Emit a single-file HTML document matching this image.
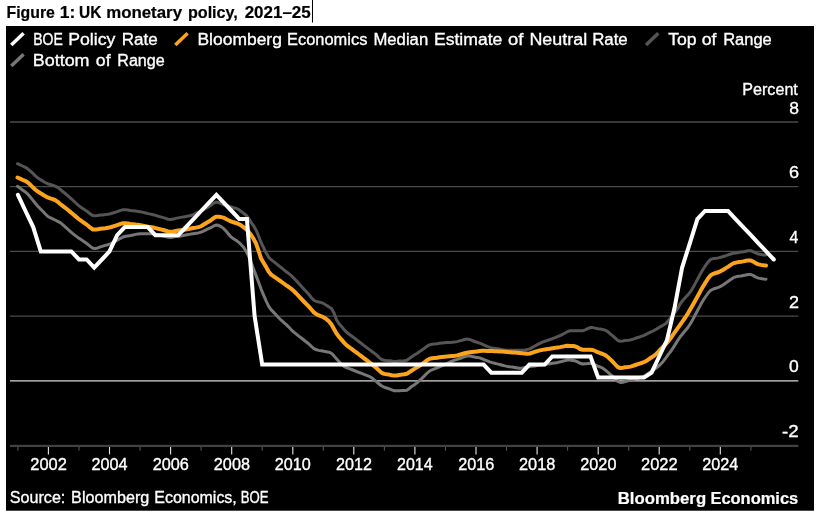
<!DOCTYPE html>
<html><head><meta charset="utf-8"><title>Figure 1: UK monetary policy</title>
<style>
html,body{margin:0;padding:0;background:#fff;}
body{width:820px;height:516px;overflow:hidden;position:relative;font-family:"Liberation Sans",sans-serif;}
svg{position:absolute;left:0;top:0;display:block}
svg text{font-family:"Liberation Sans",sans-serif;}
</style></head><body>
<svg width="820" height="516" viewBox="0 0 820 516">
<rect x="0" y="0" width="820" height="516" fill="#fff"/>
<rect x="312" y="0" width="1" height="22.5" fill="#000"/>
<rect x="6" y="26" width="808" height="484.7" fill="#000"/>
<g stroke="#4a4a4a" stroke-width="1.3" fill="none"><line x1="10" y1="122.0" x2="798.3" y2="122.0"/><line x1="10" y1="186.7" x2="798.3" y2="186.7"/><line x1="10" y1="251.4" x2="798.3" y2="251.4"/><line x1="10" y1="316.1" x2="798.3" y2="316.1"/></g>
<rect x="10" y="380.0" width="788.3" height="1.7" fill="#a0a0a0"/>
<rect x="10" y="444.8" width="788.3" height="2.2" fill="#424242"/>
<g stroke-width="1.1"><line x1="17.9" y1="447" x2="17.9" y2="450.7" stroke="#555"/><line x1="48.4" y1="447" x2="48.4" y2="454.4" stroke="#e8e8e8"/><line x1="79.0" y1="447" x2="79.0" y2="450.7" stroke="#555"/><line x1="109.5" y1="447" x2="109.5" y2="454.4" stroke="#e8e8e8"/><line x1="140.1" y1="447" x2="140.1" y2="450.7" stroke="#555"/><line x1="170.6" y1="447" x2="170.6" y2="454.4" stroke="#e8e8e8"/><line x1="201.1" y1="447" x2="201.1" y2="450.7" stroke="#555"/><line x1="231.7" y1="447" x2="231.7" y2="454.4" stroke="#e8e8e8"/><line x1="262.2" y1="447" x2="262.2" y2="450.7" stroke="#555"/><line x1="292.8" y1="447" x2="292.8" y2="454.4" stroke="#e8e8e8"/><line x1="323.3" y1="447" x2="323.3" y2="450.7" stroke="#555"/><line x1="353.8" y1="447" x2="353.8" y2="454.4" stroke="#e8e8e8"/><line x1="384.4" y1="447" x2="384.4" y2="450.7" stroke="#555"/><line x1="414.9" y1="447" x2="414.9" y2="454.4" stroke="#e8e8e8"/><line x1="445.5" y1="447" x2="445.5" y2="450.7" stroke="#555"/><line x1="476.0" y1="447" x2="476.0" y2="454.4" stroke="#e8e8e8"/><line x1="506.5" y1="447" x2="506.5" y2="450.7" stroke="#555"/><line x1="537.1" y1="447" x2="537.1" y2="454.4" stroke="#e8e8e8"/><line x1="567.6" y1="447" x2="567.6" y2="450.7" stroke="#555"/><line x1="598.2" y1="447" x2="598.2" y2="454.4" stroke="#e8e8e8"/><line x1="628.7" y1="447" x2="628.7" y2="450.7" stroke="#555"/><line x1="659.2" y1="447" x2="659.2" y2="454.4" stroke="#e8e8e8"/><line x1="689.8" y1="447" x2="689.8" y2="450.7" stroke="#555"/><line x1="720.3" y1="447" x2="720.3" y2="454.4" stroke="#e8e8e8"/><line x1="750.9" y1="447" x2="750.9" y2="450.7" stroke="#555"/></g>
<polyline points="17.5,163.7 20.0,164.9 22.5,166.0 25.0,167.1 27.5,168.6 30.1,170.8 32.6,173.2 35.1,175.6 37.6,177.8 40.1,179.4 42.6,180.9 45.1,182.5 47.6,183.7 50.2,184.5 52.7,185.3 55.2,186.1 57.7,187.3 60.2,189.4 62.7,191.5 65.2,193.5 67.7,195.6 70.2,197.9 72.8,200.2 75.3,202.5 77.8,204.8 80.3,206.9 82.8,208.6 85.3,210.2 87.8,211.8 90.3,214.0 92.9,215.6 95.4,215.7 97.9,215.5 100.4,215.1 102.9,214.9 105.4,214.6 107.9,214.3 110.4,213.8 112.9,213.0 115.5,212.2 118.0,211.3 120.5,210.4 123.0,209.8 125.5,209.8 128.0,210.1 130.5,210.5 133.0,210.8 135.6,211.1 138.1,211.4 140.6,211.8 143.1,212.4 145.6,213.0 148.1,213.6 150.6,214.1 153.1,214.7 155.6,215.4 158.2,216.2 160.7,216.9 163.2,217.6 165.7,218.4 168.2,219.2 170.7,219.5 173.2,219.1 175.7,218.4 178.3,217.9 180.8,217.4 183.3,216.9 185.8,216.5 188.3,216.0 190.8,215.5 193.3,214.7 195.8,213.4 198.3,212.2 200.9,211.0 203.4,209.8 205.9,208.4 208.4,206.9 210.9,205.3 213.4,203.4 215.9,202.1 218.4,202.4 221.0,203.6 223.5,204.6 226.0,205.6 228.5,206.3 231.0,207.0 233.5,207.7 236.0,208.3 238.5,209.3 241.0,211.3 243.6,213.3 246.1,215.2 248.6,218.3 251.1,222.3 253.6,225.8 256.1,230.2 258.6,236.1 261.1,242.5 263.7,248.0 266.2,253.1 268.7,257.3 271.2,259.8 273.7,261.6 276.2,263.6 278.7,265.6 281.2,267.6 283.7,269.7 286.3,271.7 288.8,273.7 291.3,275.7 293.8,278.1 296.3,280.7 298.8,283.6 301.3,286.3 303.8,289.0 306.4,291.7 308.9,294.5 311.4,297.7 313.9,300.3 316.4,301.5 318.9,302.0 321.4,302.6 323.9,303.6 326.4,305.4 329.0,306.9 331.5,308.5 334.0,312.9 336.5,319.7 339.0,323.7 341.5,326.4 344.0,329.5 346.5,332.2 349.1,334.2 351.6,336.0 354.1,337.9 356.6,339.8 359.1,341.7 361.6,343.6 364.1,345.6 366.6,347.5 369.1,349.4 371.7,351.3 374.2,353.2 376.7,355.2 379.2,357.6 381.7,359.5 384.2,360.2 386.7,360.5 389.2,360.7 391.8,361.1 394.3,361.4 396.8,361.3 399.3,361.1 401.8,360.9 404.3,360.7 406.8,360.3 409.3,358.6 411.8,356.7 414.4,355.0 416.9,353.4 419.4,351.7 421.9,350.1 424.4,348.3 426.9,346.4 429.4,344.9 431.9,344.3 434.4,344.0 437.0,343.7 439.5,343.3 442.0,343.0 444.5,342.8 447.0,342.6 449.5,342.4 452.0,342.3 454.5,342.1 457.1,341.6 459.6,340.9 462.1,340.3 464.6,339.5 467.1,339.0 469.6,339.4 472.1,340.5 474.6,341.5 477.1,342.3 479.7,343.2 482.2,344.2 484.7,345.3 487.2,346.4 489.7,347.4 492.2,347.9 494.7,348.3 497.2,348.7 499.8,349.1 502.3,349.6 504.8,350.1 507.3,350.3 509.8,350.3 512.3,350.3 514.8,350.3 517.3,350.3 519.8,350.3 522.4,350.2 524.9,350.0 527.4,349.6 529.9,348.9 532.4,347.4 534.9,346.0 537.4,344.6 539.9,343.3 542.5,342.2 545.0,341.2 547.5,340.4 550.0,339.5 552.5,338.6 555.0,337.7 557.5,336.7 560.0,335.6 562.5,334.3 565.1,333.0 567.6,331.5 570.1,330.8 572.6,330.8 575.1,330.8 577.6,330.8 580.1,330.8 582.6,330.8 585.2,329.9 587.7,328.7 590.2,327.6 592.7,327.6 595.2,328.1 597.7,328.7 600.2,329.1 602.7,329.5 605.2,330.1 607.8,331.6 610.3,333.8 612.8,335.9 615.3,338.2 617.8,340.5 620.3,341.3 622.8,341.0 625.3,340.6 627.9,340.3 630.4,339.9 632.9,339.2 635.4,338.3 637.9,337.5 640.4,336.7 642.9,335.8 645.4,334.7 647.9,333.4 650.5,332.2 653.0,331.0 655.5,329.7 658.0,328.2 660.5,326.6 663.0,325.2 665.5,323.7 668.0,321.1 670.6,317.7 673.1,314.6 675.6,311.5 678.1,307.8 680.6,303.3 683.1,300.0 685.6,297.3 688.1,294.7 690.6,291.6 693.2,287.3 695.7,282.6 698.2,278.0 700.7,273.3 703.2,269.0 705.7,265.3 708.2,261.9 710.7,259.4 713.3,258.6 715.8,258.3 718.3,257.9 720.8,257.3 723.3,256.5 725.8,255.7 728.3,254.8 730.8,254.0 733.3,253.3 735.9,252.9 738.4,252.5 740.9,252.1 743.4,251.7 745.9,251.2 748.4,250.7 750.9,250.7 753.4,251.8 756.0,253.2 758.5,254.1 761.0,254.5 763.5,254.9 766.0,255.0" fill="none" stroke="#555" stroke-width="3" stroke-linejoin="round" stroke-linecap="round"/>
<polyline points="17.5,186.3 20.0,188.1 22.5,190.0 25.0,191.7 27.5,193.8 30.1,196.8 32.6,199.9 35.1,203.0 37.6,205.9 40.1,208.6 42.6,211.0 45.1,213.7 47.6,216.2 50.2,217.7 52.7,218.8 55.2,220.0 57.7,221.3 60.2,222.6 62.7,224.6 65.2,226.9 67.7,229.2 70.2,231.4 72.8,233.6 75.3,235.6 77.8,237.4 80.3,239.1 82.8,240.8 85.3,242.5 87.8,244.3 90.3,246.4 92.9,248.3 95.4,248.6 97.9,247.9 100.4,246.9 102.9,246.1 105.4,245.4 107.9,244.7 110.4,243.8 112.9,242.6 115.5,241.2 118.0,239.8 120.5,238.3 123.0,237.0 125.5,236.3 128.0,235.9 130.5,235.5 133.0,235.0 135.6,234.4 138.1,233.9 140.6,233.7 143.1,233.7 145.6,233.7 148.1,233.7 150.6,233.7 153.1,233.7 155.6,234.1 158.2,234.8 160.7,235.4 163.2,236.0 165.7,236.6 168.2,237.3 170.7,237.5 173.2,237.1 175.7,236.6 178.3,236.2 180.8,235.9 183.3,235.5 185.8,235.0 188.3,234.6 190.8,234.1 193.3,233.7 195.8,233.3 198.3,232.9 200.9,232.2 203.4,231.1 205.9,229.9 208.4,228.7 210.9,227.6 213.4,226.2 215.9,225.1 218.4,225.3 221.0,226.6 223.5,228.4 226.0,231.1 228.5,234.0 231.0,236.9 233.5,238.8 236.0,240.3 238.5,242.1 241.0,244.4 243.6,247.2 246.1,251.2 248.6,256.2 251.1,262.4 253.6,269.0 256.1,275.6 258.6,282.2 261.1,289.1 263.7,295.3 266.2,301.2 268.7,306.3 271.2,309.9 273.7,312.4 276.2,315.0 278.7,317.7 281.2,320.2 283.7,322.4 286.3,324.6 288.8,327.1 291.3,329.8 293.8,332.1 296.3,334.1 298.8,336.1 301.3,338.0 303.8,340.0 306.4,342.0 308.9,344.0 311.4,346.4 313.9,348.6 316.4,349.8 318.9,350.4 321.4,350.8 323.9,351.3 326.4,351.7 329.0,352.2 331.5,353.3 334.0,355.9 336.5,358.9 339.0,361.5 341.5,364.2 344.0,366.4 346.5,367.7 349.1,368.6 351.6,369.5 354.1,370.5 356.6,371.5 359.1,372.5 361.6,373.4 364.1,374.4 366.6,375.3 369.1,376.3 371.7,377.7 374.2,379.8 376.7,381.8 379.2,384.0 381.7,386.0 384.2,387.2 386.7,388.0 389.2,388.8 391.8,389.9 394.3,390.7 396.8,390.8 399.3,390.7 401.8,390.6 404.3,390.6 406.8,390.3 409.3,388.5 411.8,386.4 414.4,384.7 416.9,382.9 419.4,380.7 421.9,378.3 424.4,375.9 426.9,373.3 429.4,371.2 431.9,369.8 434.4,368.9 437.0,367.8 439.5,366.8 442.0,365.7 444.5,364.6 447.0,363.5 449.5,362.4 452.0,361.2 454.5,360.2 457.1,359.3 459.6,358.5 462.1,357.7 464.6,356.7 467.1,355.9 469.6,355.9 472.1,356.5 474.6,357.0 477.1,357.4 479.7,357.9 482.2,358.8 484.7,359.9 487.2,360.9 489.7,361.9 492.2,362.6 494.7,363.2 497.2,363.9 499.8,364.5 502.3,365.2 504.8,365.9 507.3,366.4 509.8,366.8 512.3,367.1 514.8,367.5 517.3,367.9 519.8,368.3 522.4,368.2 524.9,367.5 527.4,367.0 529.9,366.5 532.4,366.2 534.9,365.9 537.4,365.6 539.9,365.2 542.5,364.9 545.0,364.5 547.5,364.1 550.0,363.7 552.5,363.3 555.0,362.9 557.5,362.5 560.0,361.9 562.5,361.3 565.1,360.6 567.6,360.0 570.1,360.1 572.6,360.4 575.1,360.8 577.6,361.9 580.1,363.3 582.6,364.0 585.2,363.8 587.7,363.6 590.2,363.3 592.7,363.6 595.2,364.9 597.7,366.1 600.2,367.0 602.7,368.2 605.2,370.0 607.8,372.2 610.3,374.4 612.8,376.5 615.3,378.7 617.8,381.4 620.3,382.5 622.8,382.2 625.3,381.5 627.9,380.8 630.4,380.2 632.9,379.5 635.4,378.8 637.9,378.2 640.4,377.5 642.9,376.7 645.4,375.4 647.9,373.6 650.5,371.9 653.0,370.4 655.5,368.6 658.0,366.6 660.5,364.3 663.0,361.7 665.5,358.4 668.0,354.9 670.6,351.6 673.1,347.9 675.6,343.9 678.1,339.9 680.6,336.2 683.1,333.2 685.6,330.2 688.1,327.2 690.6,323.4 693.2,318.8 695.7,314.0 698.2,309.3 700.7,304.6 703.2,300.2 705.7,296.5 708.2,293.0 710.7,290.3 713.3,289.0 715.8,288.2 718.3,287.4 720.8,286.3 723.3,284.8 725.8,283.0 728.3,281.3 730.8,279.4 733.3,277.7 735.9,276.8 738.4,276.3 740.9,276.0 743.4,275.5 745.9,275.0 748.4,274.5 750.9,274.5 753.4,275.6 756.0,277.2 758.5,278.1 761.0,278.6 763.5,279.0 766.0,279.2" fill="none" stroke="#777" stroke-width="3" stroke-linejoin="round" stroke-linecap="round"/>
<polyline points="17.5,177.5 20.0,178.6 22.5,179.8 25.0,180.8 27.5,182.3 30.1,184.6 32.6,187.1 35.1,189.5 37.6,191.4 40.1,193.0 42.6,194.5 45.1,196.1 47.6,197.4 50.2,198.3 52.7,199.1 55.2,200.1 57.7,201.8 60.2,204.0 62.7,205.9 65.2,207.8 67.7,209.8 70.2,211.9 72.8,214.0 75.3,216.1 77.8,218.2 80.3,220.2 82.8,222.0 85.3,223.7 87.8,225.5 90.3,227.7 92.9,229.5 95.4,229.6 97.9,229.3 100.4,228.8 102.9,228.5 105.4,228.2 107.9,227.8 110.4,227.2 112.9,226.5 115.5,225.7 118.0,224.8 120.5,223.9 123.0,223.3 125.5,223.3 128.0,223.5 130.5,223.9 133.0,224.2 135.6,224.5 138.1,224.7 140.6,225.1 143.1,225.6 145.6,226.1 148.1,226.6 150.6,227.0 153.1,227.5 155.6,228.1 158.2,228.8 160.7,229.4 163.2,230.0 165.7,230.7 168.2,231.5 170.7,231.7 173.2,231.4 175.7,231.0 178.3,230.6 180.8,230.3 183.3,230.0 185.8,229.6 188.3,229.1 190.8,228.5 193.3,228.0 195.8,227.6 198.3,227.1 200.9,226.4 203.4,224.8 205.9,223.2 208.4,221.7 210.9,220.2 213.4,218.3 215.9,216.8 218.4,216.8 221.0,217.1 223.5,217.6 226.0,218.9 228.5,220.2 231.0,221.4 233.5,222.3 236.0,223.0 238.5,223.9 241.0,225.3 243.6,227.1 246.1,229.2 248.6,231.8 251.1,235.0 253.6,238.8 256.1,243.7 258.6,250.9 261.1,258.6 263.7,263.0 266.2,267.1 268.7,271.7 271.2,274.6 273.7,276.5 276.2,278.1 278.7,279.8 281.2,281.7 283.7,283.5 286.3,285.3 288.8,287.0 291.3,288.9 293.8,291.0 296.3,293.5 298.8,296.2 301.3,298.9 303.8,301.5 306.4,304.1 308.9,306.7 311.4,309.5 313.9,312.3 316.4,314.2 318.9,315.4 321.4,316.3 323.9,317.5 326.4,319.2 329.0,321.4 331.5,324.5 334.0,329.0 336.5,333.5 339.0,336.8 341.5,339.6 344.0,342.6 346.5,345.2 349.1,347.1 351.6,348.9 354.1,350.8 356.6,352.6 359.1,354.5 361.6,356.4 364.1,358.3 366.6,360.2 369.1,362.0 371.7,364.0 374.2,366.1 376.7,368.2 379.2,370.6 381.7,372.9 384.2,373.9 386.7,374.3 389.2,374.6 391.8,375.2 394.3,375.6 396.8,375.5 399.3,375.0 401.8,374.6 404.3,374.3 406.8,373.7 409.3,372.2 411.8,370.5 414.4,368.9 416.9,367.4 419.4,365.8 421.9,364.1 424.4,362.3 426.9,360.4 429.4,358.9 431.9,358.3 434.4,358.0 437.0,357.7 439.5,357.3 442.0,357.0 444.5,356.7 447.0,356.5 449.5,356.3 452.0,356.1 454.5,355.9 457.1,355.4 459.6,354.7 462.1,354.0 464.6,353.3 467.1,352.7 469.6,352.3 472.1,352.0 474.6,351.7 477.1,351.4 479.7,351.1 482.2,350.8 484.7,350.8 487.2,350.9 489.7,351.0 492.2,351.1 494.7,351.2 497.2,351.3 499.8,351.4 502.3,351.6 504.8,351.8 507.3,352.0 509.8,352.2 512.3,352.4 514.8,352.6 517.3,352.8 519.8,353.0 522.4,353.3 524.9,353.5 527.4,353.7 529.9,353.5 532.4,352.7 534.9,351.8 537.4,351.1 539.9,350.4 542.5,349.9 545.0,349.4 547.5,349.1 550.0,348.7 552.5,348.3 555.0,347.9 557.5,347.5 560.0,347.1 562.5,346.6 565.1,346.1 567.6,345.8 570.1,345.9 572.6,346.0 575.1,346.3 577.6,347.4 580.1,349.0 582.6,349.7 585.2,349.7 587.7,349.7 590.2,349.7 592.7,350.0 595.2,351.0 597.7,352.2 600.2,353.1 602.7,354.0 605.2,355.1 607.8,357.0 610.3,359.4 612.8,361.8 615.3,364.5 617.8,367.1 620.3,368.0 622.8,367.7 625.3,367.3 627.9,367.0 630.4,366.6 632.9,365.9 635.4,365.0 637.9,364.1 640.4,363.3 642.9,362.5 645.4,361.5 647.9,359.8 650.5,358.0 653.0,356.5 655.5,354.6 658.0,352.1 660.5,349.4 663.0,346.8 665.5,344.4 668.0,341.7 670.6,338.3 673.1,334.7 675.6,331.2 678.1,327.7 680.6,324.1 683.1,320.6 685.6,317.0 688.1,313.1 690.6,308.8 693.2,304.3 695.7,299.7 698.2,295.2 700.7,290.6 703.2,286.3 705.7,282.2 708.2,278.2 710.7,275.2 713.3,273.8 715.8,273.0 718.3,272.3 720.8,271.1 723.3,269.7 725.8,268.1 728.3,266.6 730.8,264.9 733.3,263.4 735.9,262.6 738.4,262.1 740.9,261.8 743.4,261.4 745.9,260.8 748.4,260.4 750.9,260.4 753.4,261.7 756.0,263.4 758.5,264.4 761.0,264.9 763.5,265.3 766.0,265.5" fill="none" stroke="#fca41c" stroke-width="4" stroke-linejoin="round" stroke-linecap="round"/>
<polyline points="17.9,194.8 25.5,211.0 33.2,227.1 40.8,251.4 48.4,251.4 56.1,251.4 63.7,251.4 71.3,251.4 79.0,259.5 86.6,259.5 94.2,267.6 101.9,259.5 109.5,251.4 117.2,235.2 124.8,227.1 132.4,227.1 140.1,227.1 147.7,227.1 155.3,235.2 163.0,235.2 170.6,235.2 178.2,235.2 185.9,227.1 193.5,219.1 201.1,211.0 208.8,202.9 216.4,194.8 224.0,202.9 231.7,211.0 239.3,219.1 246.9,219.1 254.6,316.1 262.2,364.6 269.9,364.6 277.5,364.6 285.1,364.6 292.8,364.6 300.4,364.6 308.0,364.6 315.7,364.6 323.3,364.6 330.9,364.6 338.6,364.6 346.2,364.6 353.8,364.6 361.5,364.6 369.1,364.6 376.7,364.6 384.4,364.6 392.0,364.6 399.6,364.6 407.3,364.6 414.9,364.6 422.6,364.6 430.2,364.6 437.8,364.6 445.5,364.6 453.1,364.6 460.7,364.6 468.4,364.6 476.0,364.6 483.6,364.6 491.3,372.7 498.9,372.7 506.5,372.7 514.2,372.7 521.8,372.7 529.4,364.6 537.1,364.6 544.7,364.6 552.3,356.5 560.0,356.5 567.6,356.5 575.3,356.5 582.9,356.5 590.5,356.5 598.2,377.6 605.8,377.6 613.4,377.6 621.1,377.6 628.7,377.6 636.3,377.6 644.0,377.6 651.6,372.7 659.2,356.5 666.9,340.4 674.5,308.0 682.1,267.6 689.8,243.3 697.4,219.1 705.0,211.0 712.7,211.0 720.3,211.0 728.0,211.0 735.6,219.1 743.2,227.1 750.9,235.2 758.5,243.3 766.1,251.4 773.8,259.5" fill="none" stroke="#fff" stroke-width="4" stroke-linejoin="miter" stroke-linecap="round"/>
<g stroke-width="3.5" stroke-linecap="butt">
<line x1="11.3" y1="44.9" x2="23.6" y2="33.3" stroke="#fff"/>
<line x1="175.3" y1="44.9" x2="187.6" y2="33.3" stroke="#fca41c"/>
<line x1="646.0" y1="44.9" x2="658.3" y2="33.3" stroke="#555"/>
<line x1="11.3" y1="65.9" x2="23.6" y2="54.3" stroke="#777"/>
</g>
<text x="6.46" y="17.6" font-size="16.5" font-weight="bold" fill="#000" stroke="#000" stroke-width="0.2" textLength="48.47" lengthAdjust="spacingAndGlyphs">Figure</text>
<text x="59.88" y="17.6" font-size="16.5" font-weight="bold" fill="#000" stroke="#000" stroke-width="0.2" textLength="15.54" lengthAdjust="spacingAndGlyphs">1:</text>
<text x="79.02" y="17.6" font-size="16.5" font-weight="bold" fill="#000" stroke="#000" stroke-width="0.2" textLength="22.35" lengthAdjust="spacingAndGlyphs">UK</text>
<text x="106.16" y="17.6" font-size="16.5" font-weight="bold" fill="#000" stroke="#000" stroke-width="0.2" textLength="75.88" lengthAdjust="spacingAndGlyphs">monetary</text>
<text x="187.92" y="17.6" font-size="16.5" font-weight="bold" fill="#000" stroke="#000" stroke-width="0.2" textLength="49.94" lengthAdjust="spacingAndGlyphs">policy,</text>
<text x="244.65" y="17.6" font-size="16.5" font-weight="bold" fill="#000" stroke="#000" stroke-width="0.2" textLength="66.13" lengthAdjust="spacingAndGlyphs">2021–25</text>
<text x="33.16" y="45.1" font-size="17.3" fill="#fff" stroke="#fff" stroke-width="0.35" textLength="29.61" lengthAdjust="spacingAndGlyphs">BOE</text>
<text x="68.16" y="45.1" font-size="17.3" fill="#fff" stroke="#fff" stroke-width="0.35" textLength="47.20" lengthAdjust="spacingAndGlyphs">Policy</text>
<text x="121.81" y="45.1" font-size="17.3" fill="#fff" stroke="#fff" stroke-width="0.35" textLength="36.01" lengthAdjust="spacingAndGlyphs">Rate</text>
<text x="197.48" y="45.1" font-size="17.3" fill="#fff" stroke="#fff" stroke-width="0.35" textLength="84.38" lengthAdjust="spacingAndGlyphs">Bloomberg</text>
<text x="287.08" y="45.1" font-size="17.3" fill="#fff" stroke="#fff" stroke-width="0.35" textLength="80.29" lengthAdjust="spacingAndGlyphs">Economics</text>
<text x="373.43" y="45.1" font-size="17.3" fill="#fff" stroke="#fff" stroke-width="0.35" textLength="54.77" lengthAdjust="spacingAndGlyphs">Median</text>
<text x="433.97" y="45.1" font-size="17.3" fill="#fff" stroke="#fff" stroke-width="0.35" textLength="68.41" lengthAdjust="spacingAndGlyphs">Estimate</text>
<text x="507.94" y="45.1" font-size="17.3" fill="#fff" stroke="#fff" stroke-width="0.35" textLength="15.35" lengthAdjust="spacingAndGlyphs">of</text>
<text x="529.42" y="45.1" font-size="17.3" fill="#fff" stroke="#fff" stroke-width="0.35" textLength="57.74" lengthAdjust="spacingAndGlyphs">Neutral</text>
<text x="592.13" y="45.1" font-size="17.3" fill="#fff" stroke="#fff" stroke-width="0.35" textLength="35.62" lengthAdjust="spacingAndGlyphs">Rate</text>
<text x="668.27" y="45.1" font-size="17.3" fill="#fff" stroke="#fff" stroke-width="0.35" textLength="28.41" lengthAdjust="spacingAndGlyphs">Top</text>
<text x="701.73" y="45.1" font-size="17.3" fill="#fff" stroke="#fff" stroke-width="0.35" textLength="14.72" lengthAdjust="spacingAndGlyphs">of</text>
<text x="723.15" y="45.1" font-size="17.3" fill="#fff" stroke="#fff" stroke-width="0.35" textLength="48.62" lengthAdjust="spacingAndGlyphs">Range</text>
<text x="32.81" y="66.0" font-size="17.3" fill="#fff" stroke="#fff" stroke-width="0.35" textLength="56.72" lengthAdjust="spacingAndGlyphs">Bottom</text>
<text x="95.86" y="66.0" font-size="17.3" fill="#fff" stroke="#fff" stroke-width="0.35" textLength="14.73" lengthAdjust="spacingAndGlyphs">of</text>
<text x="117.27" y="66.0" font-size="17.3" fill="#fff" stroke="#fff" stroke-width="0.35" textLength="47.51" lengthAdjust="spacingAndGlyphs">Range</text>
<text x="742.28" y="94.5" font-size="17.3" fill="#fff" stroke="#fff" stroke-width="0.35" textLength="55.57" lengthAdjust="spacingAndGlyphs">Percent</text>
<text x="789.23" y="113.6" font-size="17.3" fill="#fff" stroke="#fff" stroke-width="0.35" textLength="9.75" lengthAdjust="spacingAndGlyphs">8</text>
<text x="788.90" y="178.3" font-size="17.3" fill="#fff" stroke="#fff" stroke-width="0.35" textLength="10.05" lengthAdjust="spacingAndGlyphs">6</text>
<text x="789.53" y="243.0" font-size="17.3" fill="#fff" stroke="#fff" stroke-width="0.35" textLength="8.80" lengthAdjust="spacingAndGlyphs">4</text>
<text x="789.07" y="307.7" font-size="17.3" fill="#fff" stroke="#fff" stroke-width="0.35" textLength="10.02" lengthAdjust="spacingAndGlyphs">2</text>
<text x="789.07" y="372.4" font-size="17.3" fill="#fff" stroke="#fff" stroke-width="0.35" textLength="9.76" lengthAdjust="spacingAndGlyphs">0</text>
<text x="782.10" y="437.1" font-size="17.3" fill="#fff" stroke="#fff" stroke-width="0.35" textLength="16.64" lengthAdjust="spacingAndGlyphs">-2</text>
<text x="30.35" y="470.0" font-size="17.3" fill="#fff" stroke="#fff" stroke-width="0.35" textLength="36.56" lengthAdjust="spacingAndGlyphs">2002</text>
<text x="91.57" y="470.0" font-size="17.3" fill="#fff" stroke="#fff" stroke-width="0.35" textLength="36.05" lengthAdjust="spacingAndGlyphs">2004</text>
<text x="152.63" y="470.0" font-size="17.3" fill="#fff" stroke="#fff" stroke-width="0.35" textLength="36.25" lengthAdjust="spacingAndGlyphs">2006</text>
<text x="213.83" y="470.0" font-size="17.3" fill="#fff" stroke="#fff" stroke-width="0.35" textLength="36.14" lengthAdjust="spacingAndGlyphs">2008</text>
<text x="274.83" y="470.0" font-size="17.3" fill="#fff" stroke="#fff" stroke-width="0.35" textLength="36.04" lengthAdjust="spacingAndGlyphs">2010</text>
<text x="335.97" y="470.0" font-size="17.3" fill="#fff" stroke="#fff" stroke-width="0.35" textLength="35.95" lengthAdjust="spacingAndGlyphs">2012</text>
<text x="397.00" y="470.0" font-size="17.3" fill="#fff" stroke="#fff" stroke-width="0.35" textLength="35.64" lengthAdjust="spacingAndGlyphs">2014</text>
<text x="458.15" y="470.0" font-size="17.3" fill="#fff" stroke="#fff" stroke-width="0.35" textLength="36.08" lengthAdjust="spacingAndGlyphs">2016</text>
<text x="518.98" y="470.0" font-size="17.3" fill="#fff" stroke="#fff" stroke-width="0.35" textLength="36.36" lengthAdjust="spacingAndGlyphs">2018</text>
<text x="580.27" y="470.0" font-size="17.3" fill="#fff" stroke="#fff" stroke-width="0.35" textLength="36.16" lengthAdjust="spacingAndGlyphs">2020</text>
<text x="641.06" y="470.0" font-size="17.3" fill="#fff" stroke="#fff" stroke-width="0.35" textLength="36.63" lengthAdjust="spacingAndGlyphs">2022</text>
<text x="702.24" y="470.0" font-size="17.3" fill="#fff" stroke="#fff" stroke-width="0.35" textLength="36.09" lengthAdjust="spacingAndGlyphs">2024</text>
<text x="9.80" y="503.3" font-size="17.3" fill="#fff" stroke="#fff" stroke-width="0.35" textLength="55.56" lengthAdjust="spacingAndGlyphs">Source:</text>
<text x="71.11" y="503.3" font-size="17.3" fill="#fff" stroke="#fff" stroke-width="0.35" textLength="78.14" lengthAdjust="spacingAndGlyphs">Bloomberg</text>
<text x="154.37" y="503.3" font-size="17.3" fill="#fff" stroke="#fff" stroke-width="0.35" textLength="82.41" lengthAdjust="spacingAndGlyphs">Economics,</text>
<text x="240.67" y="503.3" font-size="17.3" fill="#fff" stroke="#fff" stroke-width="0.35" textLength="27.81" lengthAdjust="spacingAndGlyphs">BOE</text>
<text x="617.79" y="503.7" font-size="16.4" font-weight="bold" fill="#fff" stroke="#fff" stroke-width="0.2" textLength="88.33" lengthAdjust="spacingAndGlyphs">Bloomberg</text>
<text x="710.42" y="503.7" font-size="16.4" font-weight="bold" fill="#fff" stroke="#fff" stroke-width="0.2" textLength="87.86" lengthAdjust="spacingAndGlyphs">Economics</text>
</svg>
</body></html>
